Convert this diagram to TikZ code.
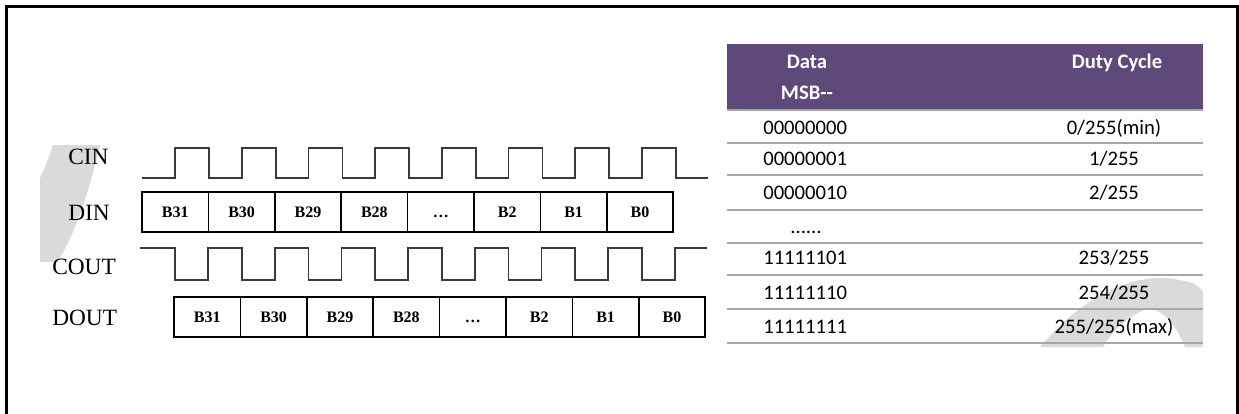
\documentclass[tikz,border=0pt]{standalone}
\usepackage{fontspec}
\setmainfont{Liberation Serif}
\newfontfamily\tablefont{Carlito}
\definecolor{headpurple}{HTML}{5F497A}
\definecolor{rulegray}{HTML}{A6A6A6}
\definecolor{markgray}{HTML}{DADADA}
\definecolor{wavegray}{HTML}{3A3A3A}

\begin{document}
\begin{tikzpicture}[x=0.75pt,y=-0.75pt,
   sig/.style={font=\fontsize{17.5}{20}\selectfont,anchor=west,inner sep=0pt},
   wave/.style={draw=wavegray,line width=1.3pt,line join=miter},
   bitbox/.style={draw=black,line width=1.2pt,minimum width=49.8pt,minimum height=30pt,
      inner sep=0pt,outer sep=0pt,text height=8.1pt,text depth=0pt,
      font=\bfseries\fontsize{12}{14}\selectfont},
   cell/.style={font=\tablefont\fontsize{15.5}{18}\selectfont,inner sep=0pt,
      text height=9.8pt,text depth=0pt},
   headcell/.style={cell,text=white,font=\tablefont\bfseries\fontsize{15.5}{18}\selectfont},
   tabrule/.style={draw=rulegray,line width=1.5pt}]
   \useasboundingbox (0,0) rectangle (1239,414);

   % faint marks behind the picture
   \fill[markgray] (53,145) -- (100,145) .. controls (88,195) and (75,235) .. (57,262)
      -- (40,262) -- (40,178) .. controls (46,165) .. (53,145) -- cycle;
   \fill[markgray] (1040,347) .. controls (1080,300) and (1130,270) .. (1180,280)
      .. controls (1195,283) .. (1203,292) -- (1203,347) -- (1185,347)
      .. controls (1175,322) and (1160,306) .. (1145,310)
      .. controls (1127,316) and (1112,332) .. (1103,347) -- cycle;

   % frame
   \draw[line width=2.25pt] (6,414) -- (6,6) -- (1237,6) -- (1237,414);

   % signal names
   \node[sig] (cin)  at (68,157) {CIN};
   \node[sig] (din)  at (68,213) {DIN};
   \node[sig] (cout) at (52,267) {COUT};
   \node[sig] (dout) at (52,318) {DOUT};

   % clocks
   \draw[wave] (142,178) \foreach \k in {0,...,7} {
      -- ({175+66.7*\k},178) -- ({175+66.7*\k},148)
      -- ({209+66.7*\k},148) -- ({209+66.7*\k},178) } -- (708,178);
   \draw[wave] (140,248) \foreach \k in {0,...,7} {
      -- ({175+66.7*\k},248) -- ({175+66.7*\k},280)
      -- ({208+66.7*\k},280) -- ({208+66.7*\k},248) } -- (707,248);

   % data bits
   \foreach \lbl [count=\i] in {B31,B30,B29,B28,\ldots,B2,B1,B0} {
      \node[bitbox] (din\i)  at ({142+66.4*(\i-0.5)},212) {\lbl};
      \node[bitbox] (dout\i) at ({174+66.4*(\i-0.5)},317) {\lbl};
   }

   % table
   \fill[headpurple] (727,44) rectangle (1203,109);
   \node[headcell] (hdata) at (807,62)  {Data};
   \node[headcell] (hmsb)  at (807,93)  {MSB--};
   \node[headcell] (hduty) at (1117,62) {Duty Cycle};
   \foreach \yy in {110,143,175,210,243,275,309,343}
      \draw[tabrule] (727,\yy) -- (1203,\yy);
   \foreach \dat/\duty/\yy [count=\r] in {00000000/{0/255(min)}/128,
         00000001/{1/255}/159, 00000010/{2/255}/193, 11111101/{253/255}/258,
         11111110/{254/255}/293, 11111111/{255/255(max)}/327} {
      \node[cell,anchor=west] (data\r) at (763,\yy) {\dat};
      \node[cell] (duty\r) at (1114,\yy) {\duty};
   }
   \node[cell] (gap) at (806,227) {......};
\end{tikzpicture}
\end{document}
